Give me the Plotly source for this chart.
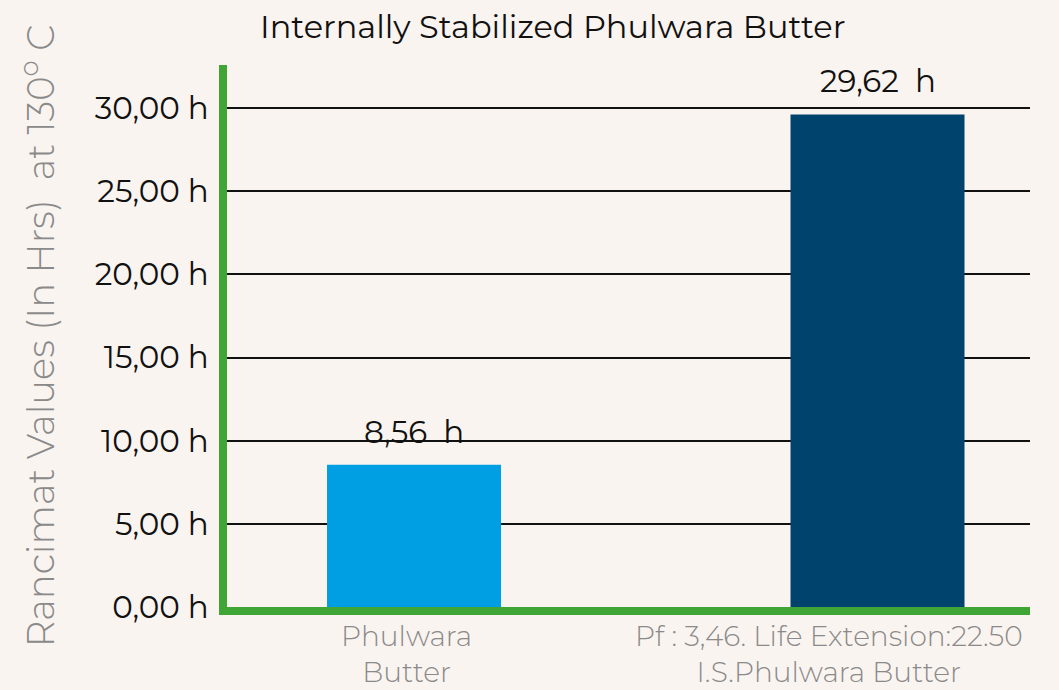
import plotly.graph_objects as go

categories = ["Phulwara<br>Butter", "Pf : 3,46. Life Extension:22.50<br>I.S.Phulwara Butter"]
values = [8.56, 29.62]
value_labels = ["8,56  h", "29,62  h"]
bar_colors = ["#009fe3", "#00446e"]
tick_vals = [0, 5, 10, 15, 20, 25, 30]
tick_text = ["0,00 h", "5,00 h", "10,00 h", "15,00 h", "20,00 h", "25,00 h", "30,00 h"]

FONT = "Montserrat, Lato, Open Sans, sans-serif"

fig = go.Figure()
fig.add_trace(go.Bar(
    x=[0, 1], y=values,
    marker=dict(color=bar_colors, line=dict(width=0)),
    width=0.3754,
))
for xi, v, t in zip([0, 1], values, value_labels):
    fig.add_annotation(x=xi, y=v, text=t, showarrow=False, yanchor="bottom",
                       yshift=12, font=dict(family=FONT, size=31, color="#111111"))

# category labels (drawn as annotations so they can sit slightly off-centre like the original)
for xi, c, dx in zip([0, 1], categories, [-8, -49]):
    fig.add_annotation(x=xi, y=0, yref="paper", text=c, showarrow=False,
                       yanchor="top", xanchor="center", yshift=-10, xshift=dx,
                       font=dict(family=FONT, size=28, color="#8a8a8a", weight=300))

fig.update_layout(
    width=1059, height=690,
    margin=dict(l=227, r=29, t=65, b=83),
    paper_bgcolor="#faf4f0", plot_bgcolor="rgba(0,0,0,0)",
    showlegend=False,
    title=dict(text="Internally Stabilized Phulwara Butter", x=0.522, xanchor="center",
               y=0.961, yanchor="middle", yref="container",
               font=dict(family=FONT, size=32, color="#111111")),
    xaxis=dict(
        range=[-0.4035, 1.3290], tickvals=[0, 1], showticklabels=False,
        showline=True, linecolor="#3fa535", linewidth=8, showgrid=False,
        ticks="", zeroline=False, automargin=False,
    ),
    yaxis=dict(
        range=[0, 32.59], tickvals=tick_vals, ticktext=tick_text,
        showline=True, linecolor="#3fa535", linewidth=8,
        showgrid=True, gridcolor="#111111", gridwidth=2,
        zeroline=False, ticks="", ticklabelstandoff=4, automargin=False,
        tickfont=dict(family=FONT, size=31, color="#111111"),
        title=dict(text="Rancimat Values (In Hrs)  at 130<sup>o</sup> C", standoff=32,
                   font=dict(family=FONT, size=37, color="#8a8a8a", weight=300)),
    ),
)

fig.write_html("out.html", config={"displayModeBar": False},
               post_script="document.body.style.margin='0';")
